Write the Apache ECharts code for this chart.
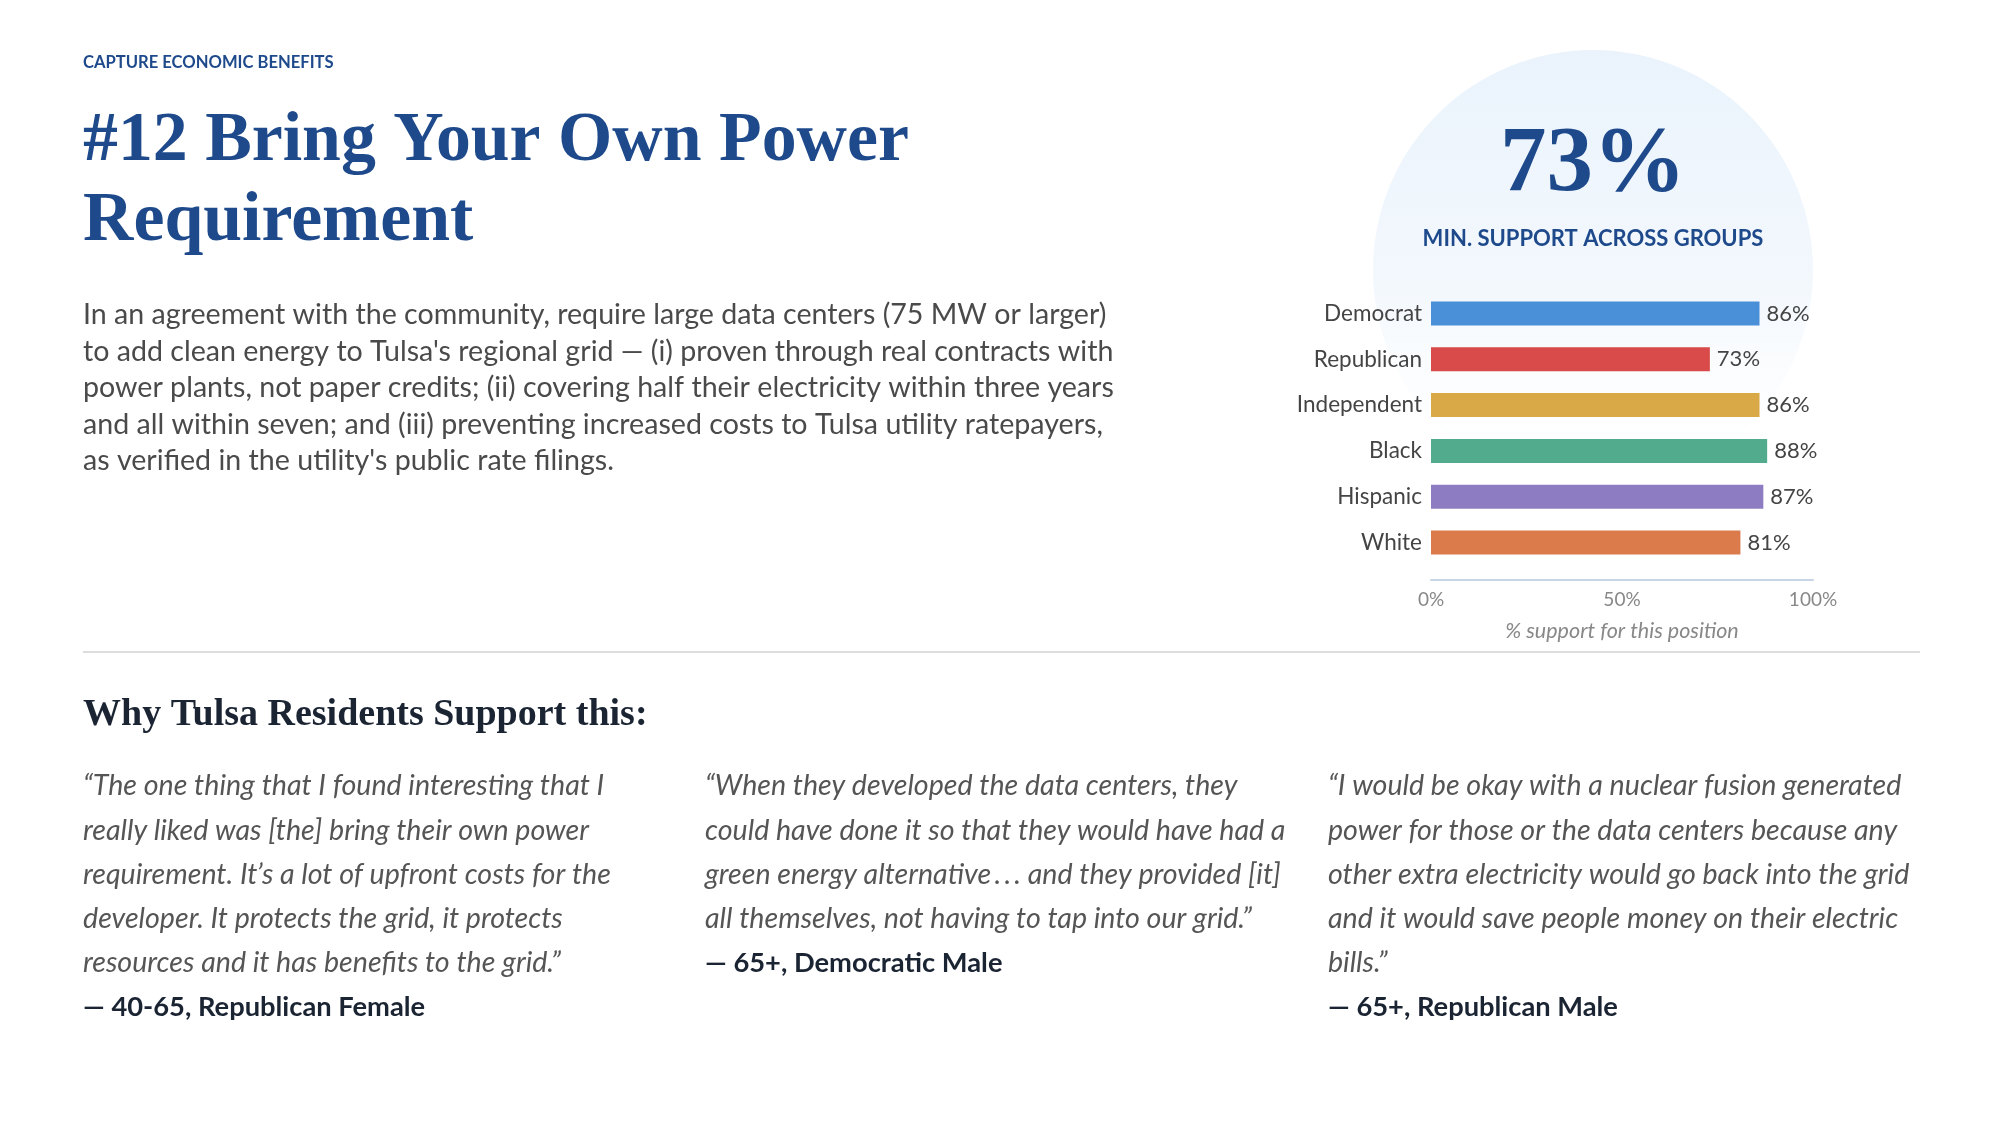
<!DOCTYPE html>
<html><head><meta charset="utf-8">
<script src="https://cdn.jsdelivr.net/npm/echarts@6/dist/echarts.min.js"></script>
<style>html,body{margin:0;padding:0;background:#fff}#c{width:2000px;height:1125px}</style>
</head><body><div id="c"></div>
<script>
// ---- data ----
const categories = ['Democrat', 'Republican', 'Independent', 'Black', 'Hispanic', 'White'];
const supportValues = [86, 73, 86, 88, 87, 81];
const barColors = ['#4A90D9', '#D94A4A', '#D9A847', '#52AB8C', '#8E7CC3', '#DB7A4A'];
const minSupport = '73%';
const kicker = 'CAPTURE ECONOMIC BENEFITS';
const titleLines = ['#12 Bring Your Own Power', 'Requirement'];
const bodyLines = [
  'In an agreement with the community, require large data centers (75 MW or larger)',
  "to add clean energy to Tulsa's regional grid \u2014 (i) proven through real contracts with",
  'power plants, not paper credits; (ii) covering half their electricity within three years',
  'and all within seven; and (iii) preventing increased costs to Tulsa utility ratepayers,',
  "as verified in the utility's public rate filings."
];
const quoteHeading = 'Why Tulsa Residents Support this:';
const quote1 = [
  '\u201CThe one thing that I found interesting that I',
  'really liked was [the] bring their own power',
  'requirement. It\u2019s a lot of upfront costs for the',
  'developer. It protects the grid, it protects',
  'resources and it has benefits to the grid.\u201D'
];
const quote2 = [
  '\u201CWhen they developed the data centers, they',
  'could have done it so that they would have had a',
  'green energy alternative\u2009.\u2009.\u2009. and they provided [it]',
  'all themselves, not having to tap into our grid.\u201D'
];
const quote3 = [
  '\u201CI would be okay with a nuclear fusion generated',
  'power for those or the data centers because any',
  'other extra electricity would go back into the grid',
  'and it would save people money on their electric',
  'bills.\u201D'
];
const attributions = ['\u2014 40-65, Republican Female', '\u2014 65+, Democratic Male', '\u2014 65+, Republican Male'];

// ---- styles ----
const SANS = 'Lato, "Open Sans", sans-serif';
const SERIF = '"Liberation Serif", "DejaVu Serif", serif';
const NAVY = '#1E4A8C';
const DARK = '#1B2433';

const chart = echarts.init(document.getElementById('c'), null, {renderer: 'canvas'});

const graphics = [];
graphics.push({
  type: 'circle', z: 0, silent: true,
  shape: {cx: 1593, cy: 270, r: 220},
  style: {fill: new echarts.graphic.LinearGradient(0, 0, 0, 1, [
    {offset: 0, color: '#EAF3FC'},
    {offset: 0.55, color: '#F3F8FD'},
    {offset: 1, color: 'rgba(255,255,255,0)'}
  ])}
});
function txt(x, y, text, font, fill, extra) {
  graphics.push(Object.assign({
    type: 'text', x: x, y: y, z: 5, silent: true,
    style: Object.assign({text: text, font: font, fill: fill, textAlign: 'left', textVerticalAlign: 'middle'}, extra && extra.style || {})
  }, extra && extra.el || {}));
}
txt(83, 63, kicker, 'bold 16.6px ' + SANS, NAVY);
txt(83, 141.5, titleLines[0], 'bold 69.8px ' + SERIF, NAVY);
txt(83, 221.5, titleLines[1], 'bold 69.8px ' + SERIF, NAVY);
txt(83, 296.5, bodyLines.join('\n'), '28.6px ' + SANS, '#4A4A4A', {style: {textVerticalAlign: 'top', lineHeight: 36.6}});
txt(1593, 166, minSupport, 'bold 93px ' + SERIF, NAVY, {style: {textAlign: 'center'}});
txt(1593, 238.5, 'MIN. SUPPORT ACROSS GROUPS', 'bold 22px ' + SANS, NAVY, {style: {textAlign: 'center'}});
txt(83, 715.5, quoteHeading, 'bold 38px ' + SERIF, DARK);

const qTop = 764, qLH = 44.2;
const cols = [83, 705, 1328];
[quote1, quote2, quote3].forEach(function (q, i) {
  txt(cols[i], qTop, q.join('\n'), 'italic 28.6px ' + SANS, '#555555', {style: {textVerticalAlign: 'top', lineHeight: qLH}});
  txt(cols[i], qTop + qLH * (q.length + 0.5), attributions[i], 'bold 27.3px ' + SANS, DARK);
});

graphics.push({
  type: 'line', z: 1, silent: true,
  shape: {x1: 83, y1: 652, x2: 1920, y2: 652},
  style: {stroke: '#DDDDDD', lineWidth: 2}
});

chart.setOption({
  backgroundColor: '#ffffff',
  animation: false,
  grid: {left: 1431, right: 187, top: 290.5, bottom: 559.5},
  xAxis: {
    type: 'value', min: 0, max: 100, interval: 50, position: 'bottom', offset: 14.5,
    axisLine: {show: true, lineStyle: {color: '#C8D5E6', width: 2}},
    axisTick: {show: false}, splitLine: {show: false},
    axisLabel: {formatter: '{value}%', color: '#888888', fontSize: 19, fontFamily: SANS, margin: 10},
    name: '% support for this position', nameLocation: 'middle', nameGap: 40,
    nameTextStyle: {color: '#888888', fontSize: 21.5, fontStyle: 'italic', fontFamily: SANS}
  },
  yAxis: {
    type: 'category', inverse: true, data: categories,
    axisLine: {show: false}, axisTick: {show: false},
    axisLabel: {color: '#444444', fontSize: 22.5, fontFamily: SANS, margin: 9}
  },
  series: [{
    type: 'bar', barWidth: 24, z: 3,
    data: supportValues.map(function (v, i) { return {value: v, itemStyle: {color: barColors[i]}}; }),
    label: {show: true, position: 'right', distance: 7, formatter: '{c}%', color: '#444444', fontSize: 22, fontFamily: SANS}
  }],
  graphic: graphics
});
</script></body></html>
